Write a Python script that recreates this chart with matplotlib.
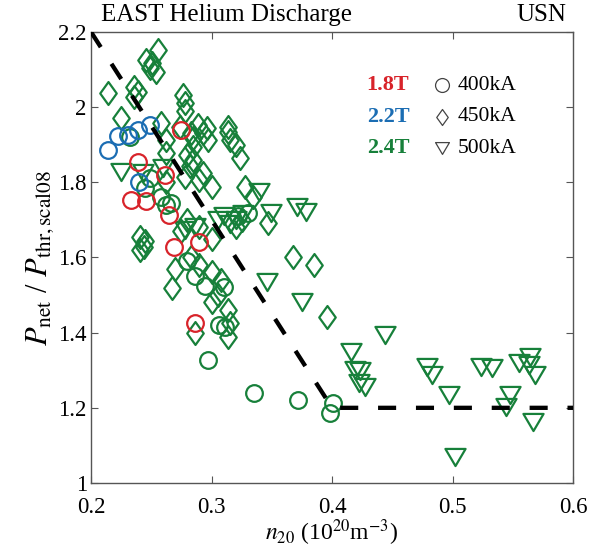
import matplotlib
matplotlib.use("Agg")
import matplotlib.pyplot as plt
from matplotlib.path import Path
import numpy as np

plt.rcParams['font.family'] = ['Liberation Serif', 'DejaVu Serif']
plt.rcParams['mathtext.fontset'] = 'stix'

# ---- data (n20, Pnet/Pthr) ----
red_400_x = [0.275, 0.239, 0.233, 0.246, 0.261, 0.265, 0.269, 0.290, 0.286]
red_400_y = [1.939, 1.855, 1.753, 1.749, 1.820, 1.713, 1.629, 1.642, 1.425]

blue_400_x = [0.214, 0.231, 0.239, 0.249, 0.240, 0.222]
blue_400_y = [1.885, 1.926, 1.939, 1.953, 1.802, 1.922]

green_400_x = [0.232, 0.249, 0.245, 0.262, 0.258, 0.330, 0.322, 0.297, 0.335, 0.372,
               0.401, 0.398, 0.311, 0.306, 0.310, 0.295, 0.286, 0.280, 0.266]
green_400_y = [1.921, 1.811, 1.785, 1.740, 1.760, 1.718, 1.710, 1.327, 1.239, 1.221,
               1.212, 1.185, 1.416, 1.420, 1.522, 1.525, 1.550, 1.590, 1.745]

green_450_x = [0.256, 0.246, 0.251, 0.254, 0.249, 0.214, 0.236, 0.239, 0.236, 0.225,
               0.276, 0.278, 0.278, 0.274, 0.258, 0.262, 0.283, 0.289, 0.296, 0.293,
               0.297, 0.285, 0.285, 0.314, 0.314, 0.315, 0.320, 0.324, 0.285, 0.282,
               0.293, 0.262, 0.280, 0.278, 0.290, 0.300, 0.328, 0.347, 0.368, 0.385,
               0.396, 0.241, 0.245, 0.244, 0.241, 0.267, 0.300, 0.314, 0.315, 0.314,
               0.286, 0.305, 0.283, 0.290, 0.275, 0.280, 0.290, 0.300, 0.270, 0.320,
               0.325, 0.300, 0.334, 0.308, 0.262]
green_450_y = [2.152, 2.125, 2.117, 2.094, 2.103, 2.037, 2.054, 2.041, 2.028, 1.970,
               2.032, 2.010, 1.990, 1.948, 1.957, 1.913, 1.930, 1.953, 1.944, 1.930,
               1.913, 1.917, 1.895, 1.948, 1.935, 1.913, 1.900, 1.864, 1.859, 1.842,
               1.824, 1.878, 1.872, 1.815, 1.806, 1.788, 1.788, 1.692, 1.601, 1.580,
               1.442, 1.655, 1.645, 1.628, 1.620, 1.518, 1.482, 1.460, 1.425, 1.388,
               1.400, 1.500, 1.600, 1.580, 1.670, 1.700, 1.680, 1.560, 1.570, 1.680,
               1.700, 1.650, 1.760, 1.540, 1.800]

green_500_x = [0.225, 0.243, 0.260, 0.278, 0.286, 0.339, 0.349, 0.371, 0.378, 0.305,
               0.310, 0.315, 0.320, 0.326, 0.346, 0.375, 0.444, 0.416, 0.419, 0.423,
               0.422, 0.427, 0.479, 0.483, 0.497, 0.502, 0.524, 0.533, 0.555, 0.564,
               0.563, 0.568, 0.548, 0.544, 0.567]
green_500_y = [1.828, 1.825, 1.838, 1.673, 1.680, 1.775, 1.718, 1.735, 1.722, 1.700,
               1.710, 1.690, 1.700, 1.715, 1.535, 1.482, 1.394, 1.349, 1.301, 1.297,
               1.265, 1.256, 1.309, 1.287, 1.234, 1.070, 1.309, 1.305, 1.318, 1.336,
               1.314, 1.287, 1.234, 1.203, 1.163]

# threshold guide line
guide_x = [0.2, 0.4, 0.6]
guide_y = [2.2, 1.2, 1.2]

field_labels = ['1.8T', '2.2T', '2.4T']
current_labels = ['400kA', '450kA', '500kA']

RED = '#d8232a'
BLUE = '#1b6db3'
GREEN = '#17803a'

diamond = Path([(0, 1), (0.72, 0), (0, -1), (-0.72, 0), (0, 1)],
               [Path.MOVETO, Path.LINETO, Path.LINETO, Path.LINETO, Path.CLOSEPOLY])
tri = Path([(-1, 0.85), (1, 0.85), (0, -0.85), (-1, 0.85)],
           [Path.MOVETO, Path.LINETO, Path.LINETO, Path.CLOSEPOLY])

fig = plt.figure(figsize=(5.89, 5.60), dpi=100)
ax = fig.add_axes([0.1545, 0.1375, 0.8185, 0.8055])

mew = 1.6
def sc(x, y, marker, color, ms):
    ax.plot(x, y, linestyle='none', marker=marker, ms=ms, mfc='none',
            mec=color, mew=mew, zorder=3)

sc(green_450_x, green_450_y, diamond, GREEN, 16.5)
sc(green_500_x, green_500_y, tri, GREEN, 14.5)
sc(green_400_x, green_400_y, 'o', GREEN, 12)
sc(blue_400_x, blue_400_y, 'o', BLUE, 12)
sc(red_400_x, red_400_y, 'o', RED, 12)

ax.plot(guide_x, guide_y, color='black', lw=3.1, dashes=(4.2, 4.6), zorder=4)

ax.set_xlim(0.2, 0.6)
ax.set_ylim(1.0, 2.2)
ax.set_xticks([0.2, 0.3, 0.4, 0.5, 0.6])
ax.set_xticklabels(['0.2', '0.3', '0.4', '0.5', '0.6'])
ax.set_yticks([1, 1.2, 1.4, 1.6, 1.8, 2, 2.2])
ax.set_yticklabels(['1', '1.2', '1.4', '1.6', '1.8', '2', '2.2'])
ax.tick_params(direction='in', length=5, width=0.8, color='#555555',
               top=True, right=True, labelsize=16.5)
ax.tick_params(axis='x', pad=10)
ax.tick_params(axis='y', pad=3)
for s in ax.spines.values():
    s.set_color('#555555')
    s.set_linewidth(1.0)

ax.set_ylabel(r'$P_{\rm net}$ / $P_{\rm thr,scal08}$', fontsize=22, labelpad=2)
ax.set_xlabel(r'$n_{20}$ (10$^{20}$m$^{-3}$)', fontsize=17, labelpad=0)

fig.text(0.171, 0.974, 'EAST Helium Discharge', fontsize=18, ha='left', va='center')
fig.text(0.962, 0.974, 'USN', fontsize=18, ha='right', va='center')

# legend-like annotation
fcolors = [RED, BLUE, GREEN]
lmarkers = ['o', diamond, tri]
lms = [10, 11.5, 10]
rows_y = [0.882, 0.812, 0.742]
for i in range(3):
    ax.text(0.616, rows_y[i], field_labels[i], transform=ax.transAxes, fontsize=16,
            fontweight='bold', color=fcolors[i], ha='center', va='center')
    ax.plot([0.728], [rows_y[i]], transform=ax.transAxes, marker=lmarkers[i],
            ms=lms[i], mfc='none', mec='#444444', mew=0.9, linestyle='none')
    ax.text(0.761, rows_y[i], current_labels[i], transform=ax.transAxes,
            fontsize=15.5, ha='left', va='center')

fig.savefig('out.png', dpi=100)
